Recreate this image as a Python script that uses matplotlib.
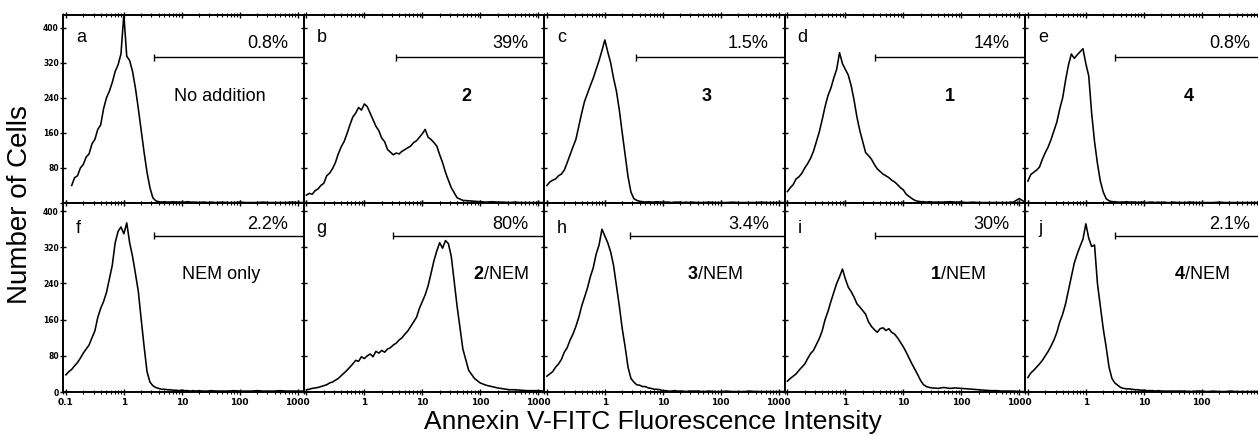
import numpy as np
import matplotlib
matplotlib.use('Agg')
import matplotlib.pyplot as plt
from matplotlib.ticker import FixedLocator, LogLocator, NullFormatter

plt.rcParams['font.family'] = ['Liberation Sans', 'DejaVu Sans']
plt.rcParams['mathtext.fontset'] = 'custom'
plt.rcParams['mathtext.rm'] = 'Liberation Sans'
plt.rcParams['mathtext.bf'] = 'Liberation Sans:bold'

# log10 of the Annexin V-FITC intensity channel
LOG_I = [-1.00, -0.95, -0.90, -0.85, -0.80, -0.75, -0.70, -0.65, -0.60, -0.55,
         -0.50, -0.45, -0.40, -0.35, -0.30, -0.25, -0.20, -0.15, -0.10, -0.05,
         0.00, 0.05, 0.10, 0.15, 0.20, 0.25, 0.30, 0.35, 0.40, 0.45,
         0.50, 0.55, 0.60, 0.65, 0.70, 0.75, 0.80, 0.85, 0.90, 0.95,
         1.00, 1.05, 1.10, 1.15, 1.20, 1.25, 1.30, 1.35, 1.40, 1.45,
         1.50, 1.6, 1.7, 1.8, 1.9, 2.0, 2.1, 2.2, 2.3, 2.4, 2.5, 2.6, 2.7, 2.8, 2.9, 3.0, 3.1]

nan = float('nan')
COUNTS_A = [nan, nan, 40, 58, 62, 80, 88, 105, 112, 135,
            145, 168, 178, 215, 240, 255, 275, 300, 315, 340,
            430, 335, 325, 300, 262, 215, 165, 115, 70, 35,
            12, 5, 3, 2, 3, 2, 2, 3, 2, 2,
            2, 2, 3, 2, 2, 2, 1, 2, 2, 1,
            2, 1, 2, 1, 1, 2, 1, 1, 1, 2, 1, 1, 1, 1, 2, 1, 1]
COUNTS_B = [18, 22, 20, 28, 32, 40, 45, 62, 68, 78,
            92, 112, 128, 140, 158, 178, 196, 205, 218, 212,
            226, 220, 205, 190, 175, 165, 148, 140, 122, 116,
            110, 114, 112, 118, 122, 126, 130, 138, 142, 150,
            158, 168, 150, 145, 138, 130, 110, 92, 70, 52,
            35, 12, 6, 5, 4, 3, 2, 3, 2, 2, 1, 2, 1, 1, 1, 1, 1]
COUNTS_C = [40, 48, 52, 55, 62, 66, 75, 92, 110, 128,
            145, 175, 205, 232, 250, 268, 285, 305, 325, 348,
            372, 345, 320, 285, 255, 212, 160, 110, 60, 25,
            10, 6, 4, 3, 2, 3, 2, 2, 3, 2,
            2, 2, 2, 1, 2, 2, 2, 1, 2, 1,
            2, 1, 1, 2, 1, 1, 1, 2, 1, 1, 1, 1, 2, 1, 1, 1, 1]
COUNTS_D = [26, 35, 42, 55, 60, 68, 80, 90, 102, 118,
            140, 162, 190, 220, 245, 262, 285, 305, 343, 318,
            305, 292, 268, 235, 196, 165, 140, 115, 108, 100,
            88, 78, 72, 66, 62, 58, 52, 48, 42, 35,
            30, 20, 15, 10, 6, 4, 3, 3, 2, 3,
            2, 2, 2, 3, 2, 2, 1, 2, 1, 1, 1, 1, 1, 1, 2, 10, 2]
COUNTS_E = [50, 65, 70, 75, 82, 100, 115, 128, 145, 165,
            185, 215, 240, 280, 315, 340, 330, 338, 345, 352,
            318, 290, 205, 140, 90, 50, 25, 10, 5, 3,
            3, 2, 2, 2, 3, 2, 2, 2, 1, 2,
            2, 1, 2, 2, 1, 2, 1, 2, 1, 1,
            2, 1, 1, 2, 1, 1, 1, 1, 2, 1, 1, 1, 1, 1, 1, 1, 1]
COUNTS_F = [38, 45, 50, 58, 65, 75, 86, 95, 104, 120,
            135, 165, 185, 200, 220, 250, 280, 330, 355, 365,
            350, 374, 330, 300, 262, 222, 160, 100, 45, 22,
            14, 10, 8, 6, 6, 5, 5, 4, 4, 3,
            4, 3, 3, 2, 3, 2, 3, 2, 2, 2,
            3, 2, 2, 2, 3, 2, 2, 2, 3, 2, 2, 2, 3, 2, 2, 2, 2]
COUNTS_G = [5, 6, 8, 9, 10, 12, 14, 16, 20, 22,
            26, 30, 36, 42, 48, 55, 62, 70, 68, 78,
            74, 80, 84, 78, 90, 86, 92, 88, 95, 98,
            104, 108, 115, 120, 128, 135, 145, 155, 165, 185,
            200, 215, 235, 262, 290, 312, 330, 318, 335, 328,
            300, 190, 95, 48, 30, 20, 15, 12, 9, 7, 5, 5, 4, 3, 3, 3, 2]
COUNTS_H = [35, 40, 45, 55, 62, 72, 88, 98, 115, 128,
            145, 165, 190, 210, 230, 255, 275, 305, 325, 360,
            345, 330, 310, 280, 235, 190, 140, 100, 55, 30,
            22, 16, 15, 12, 12, 9, 8, 6, 6, 5,
            3, 3, 2, 2, 3, 2, 2, 2, 1, 2,
            2, 2, 1, 2, 1, 1, 2, 1, 1, 1, 2, 1, 1, 1, 1, 1, 1]
COUNTS_I = [24, 30, 35, 40, 48, 55, 62, 74, 85, 92,
            105, 118, 135, 160, 178, 200, 220, 240, 255, 272,
            250, 232, 222, 210, 195, 188, 180, 172, 155, 145,
            138, 132, 140, 142, 136, 140, 132, 128, 120, 110,
            100, 88, 75, 62, 50, 38, 25, 16, 12, 10,
            9, 8, 10, 8, 9, 8, 7, 6, 5, 4, 3, 3, 2, 2, 2, 1, 1]
COUNTS_J = [32, 42, 48, 55, 62, 70, 80, 90, 102, 115,
            132, 155, 172, 195, 225, 255, 285, 305, 322, 338,
            372, 340, 322, 325, 240, 190, 140, 100, 55, 30,
            20, 15, 10, 8, 7, 7, 6, 5, 5, 4,
            4, 3, 3, 3, 2, 3, 2, 2, 2, 2,
            2, 2, 2, 1, 2, 2, 1, 2, 1, 1, 2, 1, 1, 1, 1, 1, 1]

PANEL_COUNTS = [COUNTS_A, COUNTS_B, COUNTS_C, COUNTS_D, COUNTS_E,
                COUNTS_F, COUNTS_G, COUNTS_H, COUNTS_I, COUNTS_J]
LETTERS = ['a', 'b', 'c', 'd', 'e', 'f', 'g', 'h', 'i', 'j']
PERCENTS = ['0.8%', '39%', '1.5%', '14%', '0.8%', '2.2%', '80%', '3.4%', '30%', '2.1%']
TREATMENTS = ['No addition', r'$\mathbf{2}$', r'$\mathbf{3}$', r'$\mathbf{1}$', r'$\mathbf{4}$',
              'NEM only', r'$\mathbf{2}$/NEM', r'$\mathbf{3}$/NEM', r'$\mathbf{1}$/NEM',
              r'$\mathbf{4}$/NEM']
GATE_LOW = [3.3, 3.5, 3.5, 3.3, 3.2, 3.3, 3.1, 2.75, 3.3, 3.2]
GATE_Y = [333, 333, 333, 333, 333, 346, 346, 346, 346, 346]
Y_TICKS = [0, 80, 160, 240, 320, 400]
X_MAJOR = [0.1, 1, 10, 100, 1000]
X_LABELS = ['0.1', '1', '10', '100', '1000']

# layout (pixels of the 1258x441 reference)
W_PX, H_PX = 1258, 441
LEFT_PX, PANEL_W_PX = 63, 240.5
ROW_PX = [(15, 203), (203, 392)]
ROW_YMAX = [429, 418]
XLIM = (10 ** -1.05, 10 ** 3.1)
TREAT_X = [0.654, 0.68, 0.675, 0.687, 0.68, 0.658, 0.82, 0.708, 0.72, 0.733]
TREAT_Y = [0.565, 0.62]
LETTER_Y = [0.858, 0.84]
PCT_Y = [0.823, 0.862]

fig = plt.figure(figsize=(W_PX / 100, H_PX / 100), dpi=100)
fig.patch.set_facecolor('white')
tick_font = dict(family='DejaVu Sans', weight='bold')

log_i = np.array(LOG_I)
for k in range(10):
    row, col = divmod(k, 5)
    top, bot = ROW_PX[row]
    ax = fig.add_axes([(LEFT_PX + col * PANEL_W_PX) / W_PX, 1 - bot / H_PX,
                       PANEL_W_PX / W_PX, (bot - top) / H_PX])
    ax.set_facecolor('white')
    ax.set_xscale('log')
    ax.set_xlim(*XLIM)
    ax.set_ylim(0, ROW_YMAX[row])
    ax.plot(10 ** log_i, PANEL_COUNTS[k], color='black', lw=1.15)

    # marker gate
    gy = GATE_Y[k]
    ax.hlines(gy, GATE_LOW[k], XLIM[1], color='black', lw=1.0)
    ax.vlines(GATE_LOW[k], gy - 8, gy + 8, color='black', lw=1.0)

    for sp in ax.spines.values():
        sp.set_linewidth(1.4)
        sp.set_color('black')

    ax.xaxis.set_major_locator(FixedLocator(X_MAJOR))
    ax.xaxis.set_minor_locator(LogLocator(base=10, subs=np.arange(2, 10)))
    ax.xaxis.set_minor_formatter(NullFormatter())
    ax.yaxis.set_major_locator(FixedLocator(Y_TICKS))
    ax.tick_params(axis='x', which='major', direction='inout', length=5, width=1,
                   top=True, bottom=True, pad=2, labelsize=6.5)
    ax.tick_params(axis='x', which='minor', direction='inout', length=3, width=0.8,
                   top=True, bottom=True)
    ax.tick_params(axis='y', which='major', direction='inout', length=4, width=1,
                   left=True, right=False, pad=1, labelsize=5.5)

    if row == 1:
        labels = list(X_LABELS) if col == 0 else [''] + X_LABELS[1:]
        if col == 4:
            labels[-1] = ''  # falls outside the visible figure
        ax.set_xticklabels(labels, **tick_font)
    else:
        ax.set_xticklabels([])
    if col == 0:
        ylabels = [str(v) for v in Y_TICKS]
        if row == 0:
            ylabels[0] = ''
        ax.set_yticklabels(ylabels, **tick_font)
    else:
        ax.set_yticklabels([])

    ax.text(0.055, LETTER_Y[row], LETTERS[k], transform=ax.transAxes,
            fontsize=13, va='baseline', ha='left')
    ax.text(0.935, PCT_Y[row], PERCENTS[k], transform=ax.transAxes,
            fontsize=13, va='baseline', ha='right')
    ax.text(TREAT_X[k], TREAT_Y[row], TREATMENTS[k], transform=ax.transAxes,
            fontsize=13, va='center', ha='center')

fig.text(20 / W_PX, 1 - 205 / H_PX, 'Number of Cells', rotation=90,
         fontsize=20, ha='center', va='center')
fig.text(653 / W_PX, 1 - 422 / H_PX, 'Annexin V-FITC Fluorescence Intensity',
         fontsize=19, ha='center', va='center')

fig.savefig('out.png', dpi=100, facecolor='white')
